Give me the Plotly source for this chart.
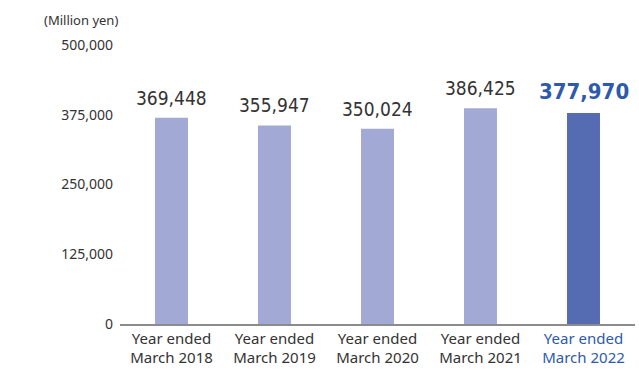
import plotly.graph_objects as go

categories = ["FY2018", "FY2019", "FY2020", "FY2021", "FY2022"]
tick_labels = ["Year ended<br>March 2018", "Year ended<br>March 2019", "Year ended<br>March 2020",
               "Year ended<br>March 2021", "<span style='color:#2d5aac'>Year ended<br>March 2022</span>"]
values = [369448, 355947, 350024, 386425, 377970]
y_ticks = [0, 125000, 250000, 375000, 500000]

bar_colors = ["#a3a9d5"] * 4 + ["#556bb2"]

fig = go.Figure()
fig.add_trace(go.Bar(x=categories, y=values, marker_color=bar_colors, width=0.32,
                     marker_line_width=0, hoverinfo="skip"))

for i, (c, v) in enumerate(zip(categories, values)):
    last = i == len(values) - 1
    fig.add_annotation(
        x=c, y=v, text=f"{v:,}", showarrow=False, yanchor="bottom", yshift=7,
        font=dict(family="DejaVu Sans Condensed, DejaVu Sans", size=22 if last else 19,
                  color="#2d5aac" if last else "#333333",
                  weight="bold" if last else "normal"),
    )

fig.add_annotation(xref="paper", yref="paper", x=0, y=1, xanchor="right", yanchor="middle",
                   yshift=25, text="(Million yen)", showarrow=False,
                   font=dict(family="Noto Sans", size=13, color="#333333"))

fig.update_layout(
    width=639, height=370, margin=dict(l=120, r=4, t=45, b=46, autoexpand=False),
    paper_bgcolor="white", plot_bgcolor="white", showlegend=False,
)
fig.update_xaxes(type="category", tickvals=categories, ticktext=tick_labels, showline=True,
                 linecolor="#8c8c8c", linewidth=1.5, ticks="", tickangle=0, automargin=False,
                 tickfont=dict(family="Noto Sans", size=15, color="#333333"),
                 showgrid=False)
fig.update_yaxes(range=[0, 500000], tickvals=y_ticks, ticktext=[f"{t:,}" for t in y_ticks],
                 showgrid=False, zeroline=False, showline=False, ticks="", automargin=False,
                 ticklabelstandoff=6,
                 tickfont=dict(family="Noto Sans", size=14, color="#333333"))

fig.write_html("out.html")
